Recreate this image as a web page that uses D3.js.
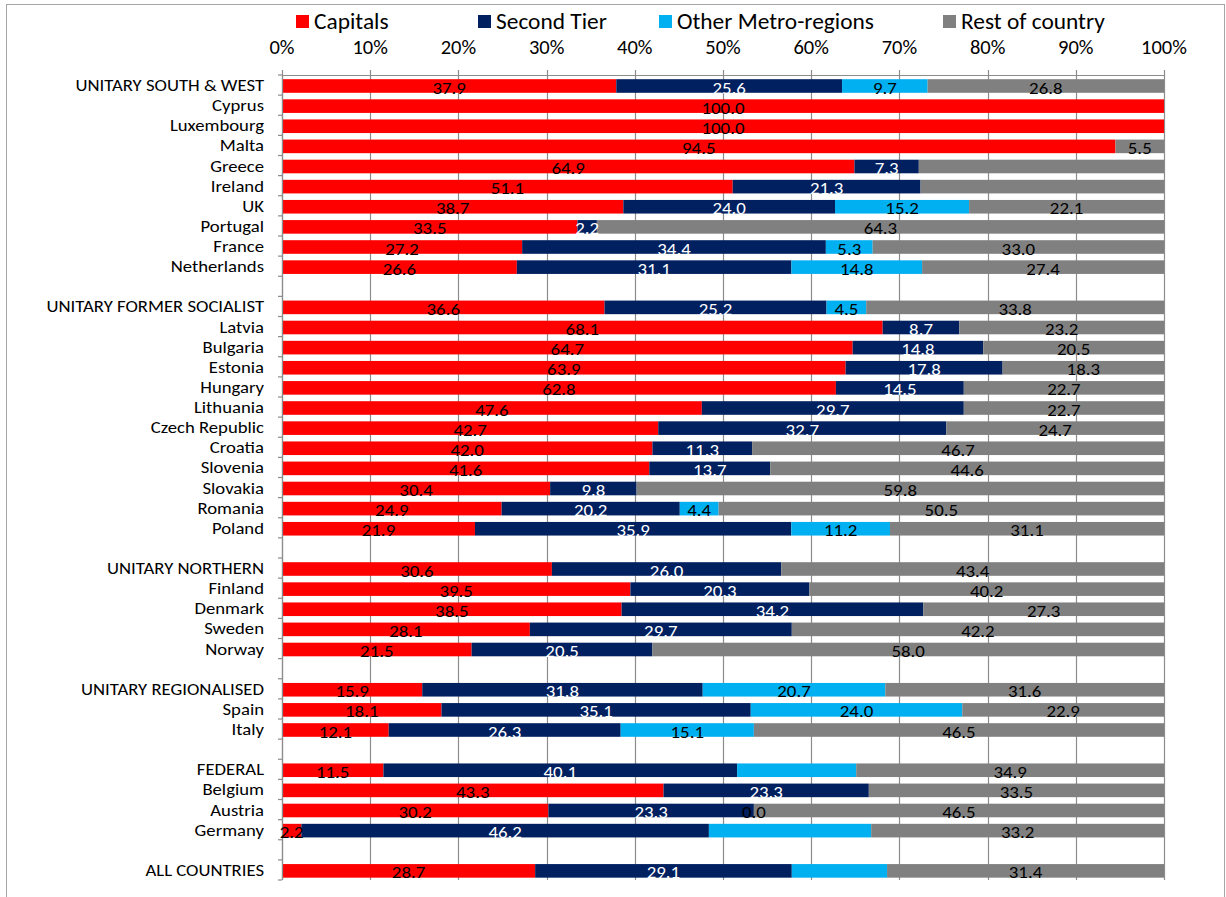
<!DOCTYPE html>
<html><head><meta charset="utf-8">
<script src="https://cdn.jsdelivr.net/npm/d3@7"></script>
<style>
html,body{margin:0;padding:0;background:#fff;}
svg{display:block;font-family:Carlito, Lato, "Open Sans", sans-serif;}
</style></head>
<body>
<svg id="chart" width="1226" height="897"></svg>
<script>
const categories = [
  "UNITARY SOUTH & WEST","Cyprus","Luxembourg","Malta","Greece","Ireland","UK","Portugal","France","Netherlands","",
  "UNITARY FORMER SOCIALIST","Latvia","Bulgaria","Estonia","Hungary","Lithuania","Czech Republic","Croatia","Slovenia","Slovakia","Romania","Poland","",
  "UNITARY NORTHERN","Finland","Denmark","Sweden","Norway","",
  "UNITARY REGIONALISED","Spain","Italy","",
  "FEDERAL","Belgium","Austria","Germany","",
  "ALL COUNTRIES"
];
const capitals = [37.9,100.0,100.0,94.5,64.9,51.1,38.7,33.5,27.2,26.6,null,
  36.6,68.1,64.7,63.9,62.8,47.6,42.7,42.0,41.6,30.4,24.9,21.9,null,
  30.6,39.5,38.5,28.1,21.5,null,
  15.9,18.1,12.1,null,
  11.5,43.3,30.2,2.2,null,
  28.7];
const secondTier = [25.6,0,0,0,7.3,21.3,24.0,2.2,34.4,31.1,null,
  25.2,8.7,14.8,17.8,14.5,29.7,32.7,11.3,13.7,9.8,20.2,35.9,null,
  26.0,20.3,34.2,29.7,20.5,null,
  31.8,35.1,26.3,null,
  40.1,23.3,23.3,46.2,null,
  29.1];
const otherMetro = [9.7,0,0,0,0,0,15.2,0,5.3,14.8,null,
  4.5,0,0,0,0,0,0,0,0,0,4.4,11.2,null,
  0,0,0,0,0,null,
  20.7,24.0,15.1,null,
  13.5,0,0.0,18.4,null,
  10.8];
const restOfCountry = [26.8,0,0,5.5,27.8,27.6,22.1,64.3,33.0,27.4,null,
  33.8,23.2,20.5,18.3,22.7,22.7,24.7,46.7,44.6,59.8,50.5,31.1,null,
  43.4,40.2,27.3,42.2,58.0,null,
  31.6,22.9,46.5,null,
  34.9,33.5,46.5,33.2,null,
  31.4];
const seriesNames = ["Capitals","Second Tier","Other Metro-regions","Rest of country"];
const seriesColors = ["#FF0000","#002060","#00B0F0","#808080"];
const labelColors = ["#000000","#FFFFFF","#000000","#000000"];
const tickValues = [0,10,20,30,40,50,60,70,80,90,100];
// segments drawn without a data label in the original
const unlabeled = [["Greece","Rest of country"],["Ireland","Rest of country"],["FEDERAL","Other Metro-regions"],["Germany","Other Metro-regions"],["ALL COUNTRIES","Other Metro-regions"]];
// zero-width segments that still carry a label
const zeroLabeled = [["Austria","Other Metro-regions"]];

const svg = d3.select("#chart");
const W = 1226, H = 897;
const M = {left:282, right:1164, top:75, bottom:880};

// chart border
svg.append("rect").attr("x",6.5).attr("y",4.5).attr("width",1218).attr("height",H+10)
  .attr("fill","none").attr("stroke","#a6a6a6").attr("stroke-width",1);

const x = d3.scaleLinear().domain([0,100]).range([M.left, M.right]);
const y = d3.scaleBand().domain(d3.range(categories.length)).range([M.top, M.bottom]).padding(0);

// gridlines
svg.append("g").selectAll("line").data(tickValues).join("line")
  .attr("x1",d=>Math.round(x(d))+0.5).attr("x2",d=>Math.round(x(d))+0.5)
  .attr("y1",M.top-5).attr("y2",M.bottom)
  .attr("stroke","#8c8c8c").attr("stroke-width",1.2);

// stacked data, normalised to 100% per row (100% stacked bar)
const rows = categories.map((c,i)=>({i, name:c, v:[capitals[i],secondTier[i],otherMetro[i],restOfCountry[i]]}))
  .filter(r=>r.v[0]!==null);
const segs = [];
rows.forEach(r=>{
  const total = d3.sum(r.v);
  let acc = 0;
  r.v.forEach((v,k)=>{
    const p = v/total*100;
    segs.push({i:r.i, name:r.name, k, v, x0:acc, x1:acc+p});
    acc += p;
  });
});

const bh = 13.6;
svg.append("g").selectAll("rect").data(segs.filter(s=>s.v>0)).join("rect")
  .attr("x",d=>x(d.x0)).attr("width",d=>x(d.x1)-x(d.x0))
  .attr("y",d=>y(d.i)+4.2).attr("height",bh)
  .attr("fill",d=>seriesColors[d.k]);

// axes lines
svg.append("line").attr("x1",M.left).attr("x2",M.right+1).attr("y1",M.top+0.5).attr("y2",M.top+0.5)
  .attr("stroke","#8c8c8c").attr("stroke-width",1.2);
svg.append("line").attr("x1",M.left+0.5).attr("x2",M.left+0.5).attr("y1",M.top).attr("y2",M.bottom)
  .attr("stroke","#8c8c8c").attr("stroke-width",1.2);
// category ticks
const bounds = d3.range(categories.length+1).map(i=>M.top + i*y.step());
svg.append("g").selectAll("line").data(bounds).join("line")
  .attr("x1",M.left-4).attr("x2",M.left).attr("y1",d=>d).attr("y2",d=>d)
  .attr("stroke","#8c8c8c").attr("stroke-width",1.2);

// data labels (slightly widened to match the original's proportions)
const isHidden = s => unlabeled.some(u=>u[0]===s.name && u[1]===seriesNames[s.k]);
const isZeroShown = s => zeroLabeled.some(u=>u[0]===s.name && u[1]===seriesNames[s.k]);
svg.append("g").selectAll("text").data(segs.filter(s=>(s.v>0 && !isHidden(s)) || isZeroShown(s))).join("text")
  .attr("transform",d=>`translate(${x((d.x0+d.x1)/2)},${y(d.i)+y.step()/2+8.5}) scale(1.15,1)`)
  .attr("text-anchor","middle").attr("font-size",16.4)
  .attr("fill",d=>labelColors[d.k])
  .text(d=>d.v.toFixed(1));

// category labels
svg.append("g").selectAll("text").data(categories.map((c,i)=>({c,i})).filter(d=>d.c!=="")).join("text")
  .attr("transform",d=>`translate(264,${y(d.i)+y.step()/2+6}) scale(1.14,1)`)
  .attr("text-anchor","end").attr("font-size",16.4).attr("fill","#000")
  .text(d=>d.c);

// top axis tick labels
svg.append("g").selectAll("text").data(tickValues).join("text")
  .attr("x",d=>x(d)).attr("y",54)
  .attr("text-anchor","middle").attr("font-size",20.5).attr("fill","#000")
  .text(d=>d+"%");

// legend
const legendX = [296,478,659,943];
const lg = svg.append("g").selectAll("g").data(seriesNames).join("g")
  .attr("transform",(d,i)=>`translate(${legendX[i]},0)`);
lg.append("rect").attr("x",0).attr("y",15).attr("width",13).attr("height",13).attr("fill",(d,i)=>seriesColors[i]);
lg.append("text").attr("x",18).attr("y",28.5).attr("font-size",23.4).attr("fill","#000").text(d=>d);
</script>
</body></html>
